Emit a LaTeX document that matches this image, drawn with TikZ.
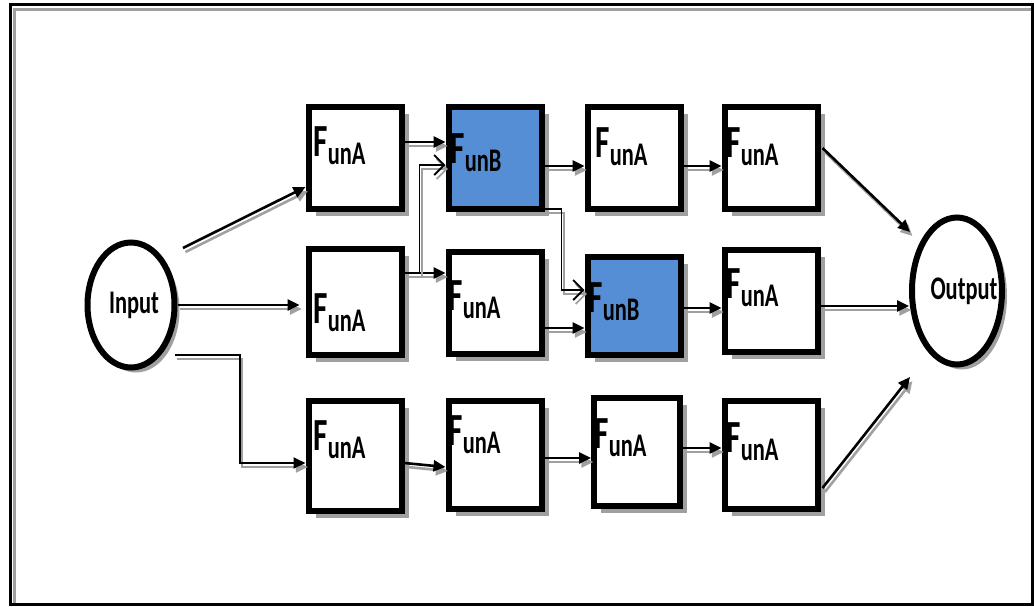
\documentclass[tikz,border=0pt]{standalone}
\usepackage{fontspec}
\newfontfamily\diafont{Carlito}[FakeStretch=0.68]
\usepackage{tikz}
\usetikzlibrary{positioning,arrows.meta,calc,shapes.geometric,shadows}
\definecolor{funblue}{RGB}{85,142,213}
\definecolor{shadegray}{RGB}{160,160,160}
\newcommand{\fn}[1]{{\fontsize{23}{23}\selectfont F}\raisebox{-4pt}{\fontsize{16.5}{16.5}\selectfont un#1}}
\tikzset{
  funbox/.style={draw=black,fill=white,line width=3pt,minimum width=46.5pt,minimum height=51pt,inner sep=0pt,
    drop shadow={shadow xshift=3.5pt,shadow yshift=-3.5pt,fill=shadegray,opacity=1}},
  funbbox/.style={funbox,fill=funblue},
  ionode/.style={ellipse,draw=black,fill=white,line width=3pt,inner sep=0pt,font=\diafont\bfseries\fontsize{16.5}{16.5}\selectfont,
    drop shadow={shadow xshift=2.5pt,shadow yshift=-2.5pt,fill=shadegray,opacity=1}},
  funtext/.style={anchor=base west,inner sep=0pt,font=\diafont\bfseries},
  shadowline/.style={draw=shadegray,transform canvas={xshift=1.2pt,yshift=-2pt}},
  flow/.style={-{Triangle[length=6pt,width=5.5pt]},line width=1.3pt,
    preaction={shadowline,-{Triangle[length=6pt,width=5.5pt]},line width=1.3pt}},
  thinflow/.style={-{Triangle[length=6pt,width=5.5pt]},line width=1pt,
    preaction={shadowline,-{Triangle[length=6pt,width=5.5pt]},line width=1pt}},
  tapflow/.style={-{Straight Barb[length=5pt,width=10pt]},line width=0.9pt,
    preaction={shadowline,-{Straight Barb[length=5pt,width=10pt]},line width=0.9pt}},
}
\begin{document}
\begin{tikzpicture}[x=0.5pt,y=-0.5pt]
  \useasboundingbox (0,0) rectangle (1034,606);
  % frame
  \draw[line width=1.5pt] (10,4) rectangle (1032,604);
  \draw[shadegray,line width=1.2pt] (14.5,603) -- (14.5,9.5) -- (1031,9.5);
  % input and output
  \node[ionode,minimum width=43.5pt,minimum height=62.5pt] (in) at (131,305) {\makebox[0pt]{\hspace*{3pt}Input}};
  \node[ionode,minimum width=45pt,minimum height=73.5pt] (out) at (957,291) {\makebox[0pt]{\hspace*{7pt}Output}};
  % first row
  \node[funbox]  (a1) at (355,158) {};
  \node[funbbox] (a2) at (495,158) {};
  \node[funbox]  (a3) at (634,158) {};
  \node[funbox]  (a4) at (771,158) {};
  % second row
  \node[funbox,minimum height=53pt] (b1) at (355,302) {};
  \node[funbox]  (b2) at (495,303) {};
  \node[funbbox,minimum height=49pt] (b3) at (634,306) {};
  \node[funbox]  (b4) at (771,301) {};
  % third row
  \node[funbox,minimum height=55pt] (c1) at (355,456) {};
  \node[funbox,minimum height=54pt] (c2) at (495,455) {};
  \node[funbox,minimum height=54pt,minimum width=43pt] (c3) at (637,452) {};
  \node[funbox,minimum height=54pt] (c4) at (771,455) {};
  % labels
  \node[funtext] (a1t) at (313,156) {\fn{A}};
  \node[funtext] (a2t) at (450,163) {\fn{B}};
  \node[funtext] (a3t) at (595,157) {\fn{A}};
  \node[funtext] (a4t) at (726,157) {\fn{A}};
  \node[funtext] (b1t) at (313,323) {\fn{A}};
  \node[funtext] (b2t) at (448,310) {\fn{A}};
  \node[funtext] (b3t) at (588,312) {\fn{B}};
  \node[funtext] (b4t) at (726,298) {\fn{A}};
  \node[funtext] (c1t) at (313,450) {\fn{A}};
  \node[funtext] (c2t) at (448,445) {\fn{A}};
  \node[funtext] (c3t) at (594,448) {\fn{A}};
  \node[funtext] (c4t) at (726,452) {\fn{A}};
  % free ends
  \coordinate (inA) at (183,248);
  \coordinate (inC) at (175,355);
  \coordinate (outA) at (910,232);
  \coordinate (outC) at (910,377);
  % from input
  \draw[flow] (inA) -- ($(a1.west)+(0,29)$);
  \draw[flow] (in.east) -- ($(in.east -| b1.west)+(-6,0)$);
  \draw[thinflow] (inC) -- ++(65,0) |- ($(c1.west)+(0,7)$);
  % first row
  \draw[flow] ($(a1.east)+(0,-16)$) -- ($(a2.west)+(0,-16)$);
  \draw[flow] ($(a2.east)+(0,8)$) -- ($(a3.west)+(0,8)$);
  \draw[flow] ($(a3.east)+(0,8)$) -- ($(a4.west)+(0,8)$);
  \draw[flow] ($(a4.east)+(2,-10)$) -- (outA);
  % second row
  \draw[flow] ($(b1.east)+(0,-29)$) coordinate (tap) -- (tap -| b2.west);
  \draw[tapflow] ($(tap)+(15,0)$) |- ($(a2.west)+(0,7)$);
  \draw[flow] ($(b2.east)+(0,25)$) -- ($(b3.west)+(0,22)$);
  \draw[tapflow] ($(a2.south east)+(0,-3)$) -- ++(17,0) |- ($(b3.west)+(0,-16)$);
  \draw[flow] ($(b3.east)+(0,2)$) -- ($(b4.west)+(0,7)$);
  \draw[flow] ($(b4.east)+(0,5)$) coordinate (bout) -- (bout -| out.west);
  % third row
  \draw[flow] ($(c1.east)+(0,7)$) -- ($(c2.west)+(0,12)$);
  \draw[flow] ($(c2.east)+(0,3)$) -- ($(c3.west)+(0,6)$);
  \draw[flow] ($(c3.east)+(0,-4)$) -- ($(c4.west)+(0,-7)$);
  \draw[flow] ($(c4.east)+(2,33)$) -- (outC);
\end{tikzpicture}
\end{document}
